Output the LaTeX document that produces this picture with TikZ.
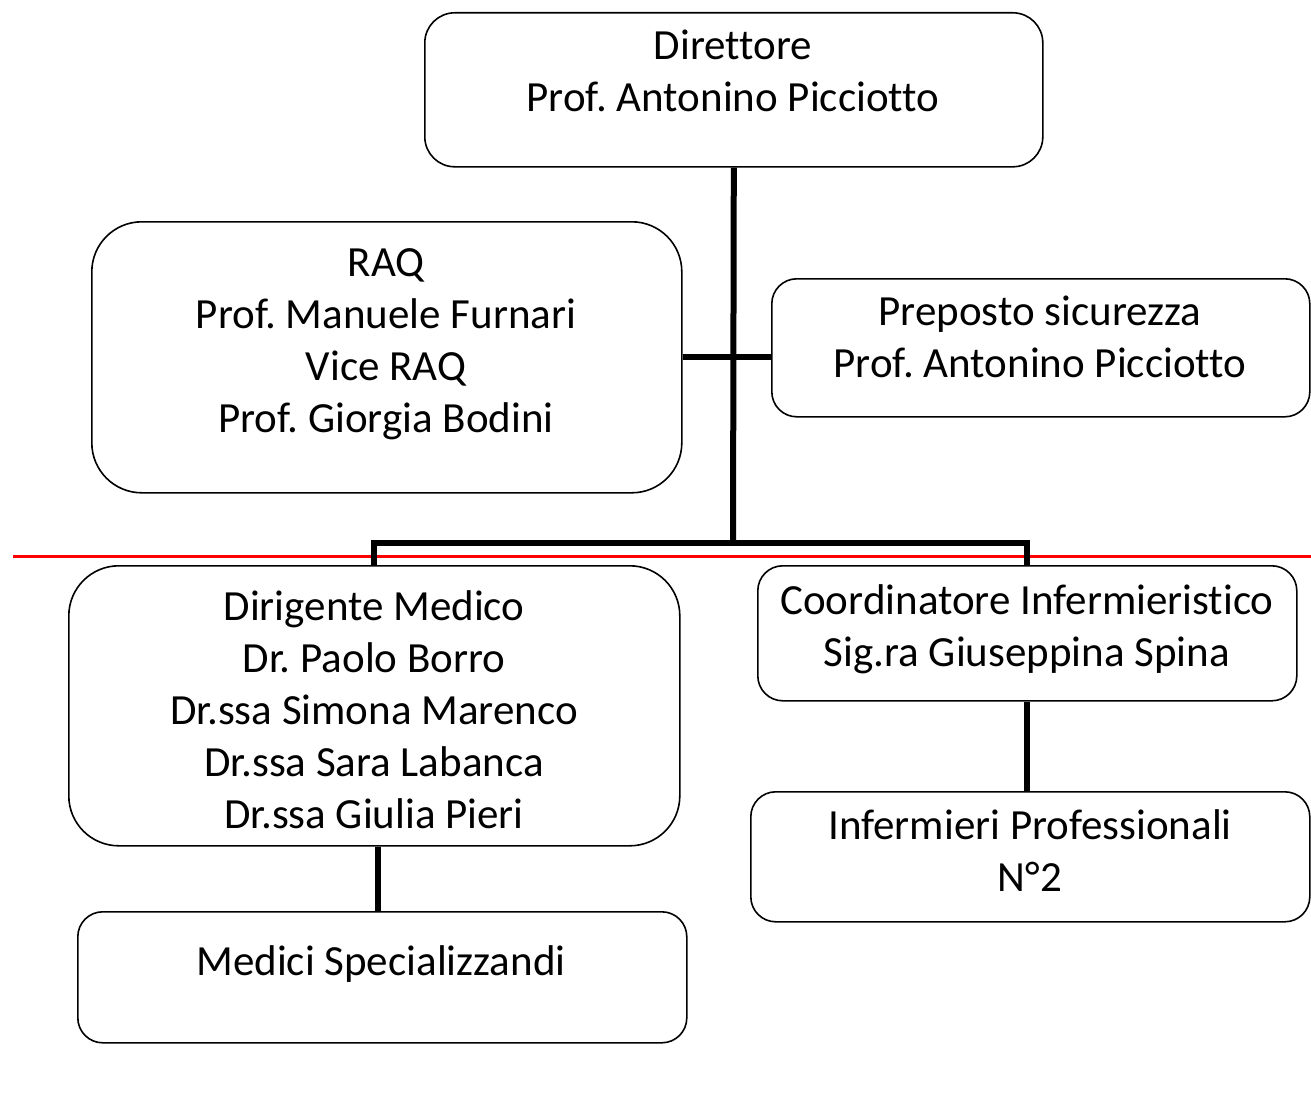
\documentclass[tikz,border=0pt]{standalone}
\usepackage{fontspec}
\setmainfont{Carlito}[Ligatures={NoCommon}]
\frenchspacing
\begin{document}
\begin{tikzpicture}[x=1pt,y=-1pt,
  box/.style={draw=black,line width=1.6pt,rounded corners=#1,inner sep=0pt,anchor=north west},
  box/.default=25pt,
  txt/.style={align=center,font=\fontsize{43}{52}\selectfont,inner sep=0pt,anchor=base},
  conn/.style={line width=6pt,line cap=butt},
  redline/.style={draw=red,line width=3pt}]
\useasboundingbox (0,0) rectangle (1311,1097);
% boxes
\node[box=30pt,minimum width=618pt,minimum height=154pt] (dir) at (424,12) {};
\node[box=50pt,minimum width=590pt,minimum height=271pt] (raq) at (91,221) {};
\node[box=25pt,minimum width=538pt,minimum height=138pt] (prep) at (771,278) {};
\node[box=50pt,minimum width=611pt,minimum height=280pt] (dirig) at (68,565) {};
\node[box=25pt,minimum width=539pt,minimum height=135pt] (coord) at (757,565) {};
\node[box=25pt,minimum width=559pt,minimum height=130pt] (inf) at (750,791) {};
\node[box=25pt,minimum width=609pt,minimum height=131pt] (med) at (77,911) {};
% texts (anchor = baseline of the last line)
\node[txt] (tdir) at (733,112) {Direttore\\Prof. Antonino Picciotto};
\node[txt] (traq) at (386,432) {RAQ\\Prof. Manuele Furnari\\Vice RAQ\\Prof. Giorgia Bodini};
\node[txt] (tprep) at (1040,377) {Preposto sicurezza\\Prof. Antonino Picciotto};
\node[txt] (tdirig) at (374,828) {Dirigente Medico\\Dr. Paolo Borro\\Dr.ssa Simona Marenco\\Dr.ssa Sara Labanca\\Dr.ssa Giulia Pieri};
\node[txt] (tcoord) at (1027,666) {Coordinatore Infermieristico\\Sig.ra Giuseppina Spina};
\node[txt] (tinf) at (1030,891) {Infermieri Professionali\\N°2};
\node[txt] (tmed) at (381,975) {Medici Specializzandi};
% red line
\coordinate (rl) at (13,556);
\coordinate (rr) at (1311,556);
\draw[redline] (rl) -- (rr);
% connectors
\coordinate (j) at (733,543);
\draw[conn] (dir.south) -- (j);
\draw[conn] (raq.east) -- (prep.west |- raq.east);
\draw[conn,line join=miter] (dirig.north) -- (dirig.north |- j) -- (coord.north |- j) -- (coord.north);
\draw[conn] (dirig.south -| 378,0) -- (med.north -| 378,0);
\draw[conn] (coord.south) -- (inf.north -| coord.south);
\end{tikzpicture}
\end{document}
